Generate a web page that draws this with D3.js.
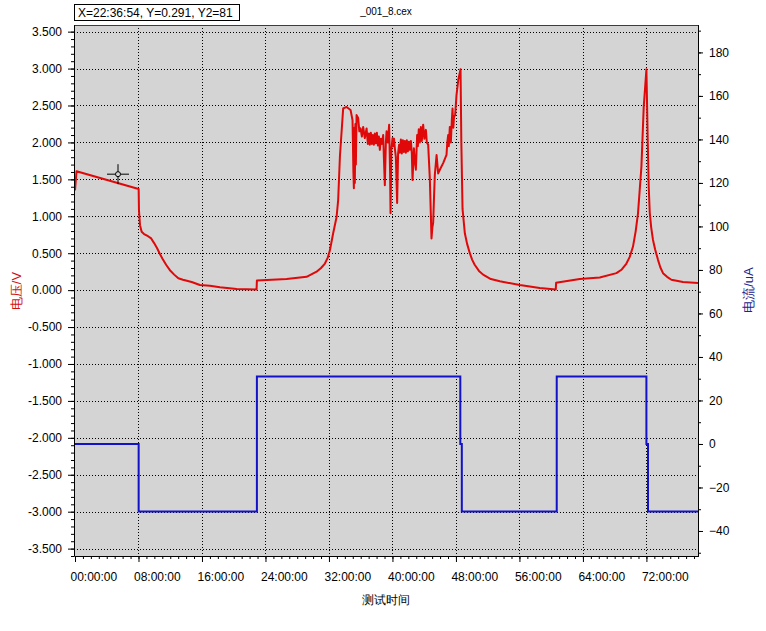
<!DOCTYPE html>
<html>
<head>
<meta charset="utf-8">
<script src="https://cdn.jsdelivr.net/npm/d3@7"></script>
<style>
body { margin: 0; background: #fff; }
text { font-family: "Liberation Sans", Arial, sans-serif; }
</style>
</head>
<body>
<div id="chart"></div>
<script>
// voltage trace (hours since start, volts)
var voltHours = [0, 0.19, 8.02, 8.06, 8.19, 8.40, 8.70, 9.20, 9.60, 9.95, 10.33, 10.70, 11.10, 11.50, 11.96, 12.50, 13.02, 13.60, 14.70, 15.74, 17.00, 18.26, 20.37, 22.88, 22.92,
    26.66, 29.18, 30.44, 31.00, 31.49, 31.85, 32.12, 32.53, 32.96, 33.16, 33.38, 33.79, 34.22, 34.72, 34.97,
    35.08, 35.14, 35.20, 35.26, 35.33, 35.39, 35.48, 35.68, 35.83, 35.98, 36.15, 36.31, 36.52, 36.74,
    36.90, 37.03, 37.15, 37.28, 37.41, 37.53, 37.66, 37.78, 37.91, 38.04, 38.16, 38.29, 38.41, 38.54, 38.66, 38.83,
    38.92, 39.04, 39.17, 39.26, 39.42, 39.58, 39.70, 39.76, 39.86, 40.01, 40.11, 40.20, 40.30, 40.43, 40.59, 40.71, 40.84,
    40.93, 41.06, 41.18, 41.31, 41.44, 41.56, 41.69, 41.81, 41.94, 42.07, 42.19, 42.32, 42.44,
    42.53, 42.70, 42.82, 42.95, 43.11, 43.20, 43.32, 43.45, 43.58, 43.70, 43.87, 44.02, 44.21, 44.33, 44.50, 44.71, 44.92,
    45.03, 45.13, 45.25, 45.34, 45.56, 45.76, 45.97, 46.39, 46.81, 46.91, 47.02, 47.10, 47.23, 47.36, 47.48, 47.57,
    47.67, 47.76, 47.90, 48.07, 48.30, 48.58,
    48.68, 48.83, 49.12, 49.40, 49.75, 50.05, 50.38, 50.90, 51.42, 52.40, 53.53, 56.05, 58.56, 60.58, 60.62, 63.60, 66.12, 68.22, 68.90, 69.48, 69.90, 70.31, 70.65, 70.94, 71.37, 71.66, 72.00,
    72.17, 72.29, 72.42, 72.60, 72.83, 73.10, 73.46, 73.75, 74.09, 74.60, 75.15, 76.61, 78.50];
var voltValues = [1.35, 1.61, 1.37, 1.08, 0.88, 0.79, 0.76, 0.73, 0.70, 0.64, 0.57, 0.49, 0.41, 0.34, 0.27, 0.21, 0.16, 0.14, 0.11, 0.07, 0.06, 0.04, 0.015, 0.01, 0.13,
    0.15, 0.18, 0.25, 0.30, 0.36, 0.44, 0.54, 0.77, 0.99, 1.22, 1.81, 2.46, 2.48, 2.44, 2.30,
    1.60, 1.38, 2.20, 1.45, 2.25, 1.70, 2.37, 2.33, 2.15, 2.19, 2.08, 2.21, 2.06, 2.19,
    1.98, 2.12, 1.97, 2.13, 1.98, 2.10, 1.97, 2.12, 1.99, 2.13, 1.96, 2.08, 1.90, 2.05, 1.98, 2.10,
    1.80, 1.42, 2.00, 2.15, 2.00, 2.24, 1.60, 1.04, 1.90, 2.06, 1.95, 2.05, 1.92, 1.80, 1.18, 1.85, 1.97,
    1.86, 2.04, 1.85, 2.03, 1.87, 2.02, 1.86, 2.03, 1.88, 2.01, 1.90, 2.02, 1.85,
    1.49, 1.92, 1.75, 1.63, 2.10, 1.95, 2.18, 2.00, 2.21, 2.02, 2.24, 2.05, 2.17, 2.00, 1.97, 1.51, 0.70,
    0.85, 0.91, 1.30, 1.56, 1.83, 1.58, 1.63, 1.72, 1.83, 2.00, 2.10, 1.95, 2.21, 2.00, 2.30, 2.46,
    2.20, 2.35, 2.37, 2.64, 2.85, 2.99,
    2.00, 1.10, 0.77, 0.63, 0.50, 0.41, 0.34, 0.26, 0.21, 0.15, 0.12, 0.07, 0.03, 0.01, 0.10, 0.15, 0.17, 0.23, 0.28, 0.36, 0.45, 0.59, 0.80, 1.04, 1.67, 2.48, 2.99,
    2.00, 1.40, 1.05, 0.85, 0.68, 0.55, 0.41, 0.31, 0.23, 0.18, 0.14, 0.11, 0.095];

// current trace (hours, uA)
var currentHours = [0, 8.02, 8.02, 22.92, 22.92, 48.55, 48.55, 48.74, 48.74, 60.70, 60.70, 72.00, 72.00, 72.20, 72.20, 78.50];
var currentValues = [0, 0, -31, -31, 31, 31, 0, 0, -31, -31, 31, 31, 0, 0, -31, -31];

var xTickHours = [0, 8, 16, 24, 32, 40, 48, 56, 64, 72];
var voltTicks = [-3.5, -3, -2.5, -2, -1.5, -1, -0.5, 0, 0.5, 1, 1.5, 2, 2.5, 3, 3.5];
var currentTicks = [-40, -20, 0, 20, 40, 60, 80, 100, 120, 140, 160, 180];

var readoutText = "X=22:36:54, Y=0.291, Y2=81";
var fileName = "_001_8.cex";
var xTitle = "测试时间";
var voltTitle = "电压/V";
var currentTitle = "电流/uA";
var cursorPoint = [5.42, 1.57];

var w = 766,
    h = 631,
    pLeft = 74, pRight = 698, pTop = 25, pBottom = 556;

var x = d3.scaleLinear().domain([0, 78.5]).range([pLeft + 1, pRight]);
var yV = d3.scaleLinear().domain([-3.6, 3.59]).range([pBottom, pTop]);
var yI = d3.scaleLinear().domain([-51.5, 192.6]).range([pBottom, pTop]);

var svg = d3.select("#chart").append("svg")
    .attr("width", w)
    .attr("height", h);

svg.append("clipPath").attr("id", "plot")
    .append("rect")
    .attr("x", pLeft).attr("y", pTop)
    .attr("width", pRight - pLeft).attr("height", pBottom - pTop);

svg.append("rect")
    .attr("x", pLeft).attr("y", pTop)
    .attr("width", pRight - pLeft).attr("height", pBottom - pTop)
    .attr("fill", "#d4d4d4");

// dotted grid
svg.append("g").selectAll("line").data(xTickHours.slice(1)).enter()
    .append("line")
    .attr("x1", function (d) { return Math.round(x(d)) + 0.5; })
    .attr("x2", function (d) { return Math.round(x(d)) + 0.5; })
    .attr("y1", pTop).attr("y2", pBottom)
    .attr("stroke", "#000").attr("stroke-dasharray", "1,2");

svg.append("g").selectAll("line").data(voltTicks).enter()
    .append("line")
    .attr("x1", pLeft).attr("x2", pRight)
    .attr("y1", function (d) { return Math.round(yV(d)) + 0.5; })
    .attr("y2", function (d) { return Math.round(yV(d)) + 0.5; })
    .attr("stroke", "#000").attr("stroke-dasharray", "1,2");

// top border
svg.append("line")
    .attr("x1", pLeft).attr("x2", pRight + 1)
    .attr("y1", pTop + 0.5).attr("y2", pTop + 0.5)
    .attr("stroke", "#3c3c3c");

var lineV = d3.line()
    .x(function (d, i) { return x(voltHours[i]); })
    .y(function (d) { return yV(d); });

var lineI = d3.line()
    .x(function (d, i) { return x(currentHours[i]); })
    .y(function (d) { return yI(d); });

var plot = svg.append("g").attr("clip-path", "url(#plot)");

plot.append("path")
    .datum(currentValues)
    .attr("d", lineI)
    .attr("fill", "none")
    .attr("stroke", "#1212c8")
    .attr("stroke-width", 2);

plot.append("path")
    .datum(voltValues)
    .attr("d", lineV)
    .attr("fill", "none")
    .attr("stroke", "#e00808")
    .attr("stroke-width", 2)
    .attr("stroke-linejoin", "round");

// axes
var fmtV = d3.format(".3f");
function minorTicks(scale, step) {
    var d = scale.domain(), out = [];
    var lo = Math.min(d[0], d[1]), hi = Math.max(d[0], d[1]);
    for (var v = Math.ceil(lo / step) * step; v <= hi + 1e-9; v += step) out.push(+v.toFixed(4));
    return out;
}

var gl = svg.append("g").attr("transform", "translate(" + pLeft + ",0)");
gl.call(d3.axisLeft(yV).tickValues(minorTicks(yV, 0.1)).tickSize(3).tickSizeOuter(0).tickFormat(""));
var glMajor = svg.append("g").attr("transform", "translate(" + pLeft + ",0)");
glMajor.call(d3.axisLeft(yV).tickValues(voltTicks).tickSize(6).tickSizeOuter(0).tickPadding(6)
    .tickFormat(function (d) { return fmtV(d).replace("\u2212", "-"); }));

var gr = svg.append("g").attr("transform", "translate(" + pRight + ",0)");
gr.call(d3.axisRight(yI).tickValues(minorTicks(yI, 10)).tickSize(3).tickSizeOuter(0).tickFormat(""));
var grMajor = svg.append("g").attr("transform", "translate(" + pRight + ",0)");
grMajor.call(d3.axisRight(yI).tickValues(currentTicks).tickSize(5).tickSizeOuter(0).tickPadding(6)
    .tickFormat(function (d) { return String(d).replace("-", "\u2212"); }));

var gb = svg.append("g").attr("transform", "translate(0," + pBottom + ")");
gb.call(d3.axisBottom(x).tickValues(minorTicks(x, 1)).tickSize(3).tickSizeOuter(0).tickFormat(""));
var gbMajor = svg.append("g").attr("transform", "translate(0," + pBottom + ")");
gbMajor.call(d3.axisBottom(x).tickValues(xTickHours).tickSize(6).tickSizeOuter(0).tickPadding(10)
    .tickFormat(function (d) { return (d < 10 ? "0" : "") + d + ":00:00"; }));
gbMajor.selectAll(".tick text").attr("text-anchor", "start").attr("x", -5);

svg.selectAll(".tick text").attr("font-size", 12).attr("font-family", "Liberation Sans, Arial, sans-serif").attr("fill", "#000");
svg.selectAll(".domain, .tick line").attr("stroke", "#000");

// titles
svg.append("text")
    .attr("x", 386).attr("y", 604)
    .attr("text-anchor", "middle")
    .attr("font-family", "Noto Sans CJK SC")
    .attr("font-size", 12)
    .text(xTitle);

svg.append("text")
    .attr("transform", "translate(21,291) rotate(-90)")
    .attr("text-anchor", "middle")
    .attr("font-family", "Noto Sans CJK SC")
    .attr("font-size", 13)
    .attr("fill", "#d01010")
    .text(voltTitle);

svg.append("text")
    .attr("transform", "translate(753,290) rotate(-90)")
    .attr("text-anchor", "middle")
    .attr("font-family", "Noto Sans CJK SC")
    .attr("font-size", 13)
    .attr("fill", "#22228c")
    .text(currentTitle);

svg.append("text")
    .attr("x", 386).attr("y", 15)
    .attr("text-anchor", "middle")
    .attr("font-family", "DejaVu Sans Mono")
    .attr("font-size", 10)
    .text(fileName);

// cursor readout
svg.append("rect")
    .attr("x", 74.5).attr("y", 4.5)
    .attr("width", 165).attr("height", 16)
    .attr("fill", "#fff").attr("stroke", "#000");
svg.append("text")
    .attr("x", 78).attr("y", 17)
    .attr("font-size", 12)
    .text(readoutText);

var cx = x(cursorPoint[0]), cy = yV(cursorPoint[1]);
var cursor = svg.append("g").attr("stroke", "#000").attr("fill", "none");
cursor.append("line").attr("x1", cx - 11).attr("x2", cx + 11).attr("y1", cy).attr("y2", cy);
cursor.append("line").attr("x1", cx).attr("x2", cx).attr("y1", cy - 10).attr("y2", cy + 10);
cursor.append("circle").attr("cx", cx).attr("cy", cy).attr("r", 2.5).attr("fill", "#d4d4d4");
</script>
</body>
</html>
